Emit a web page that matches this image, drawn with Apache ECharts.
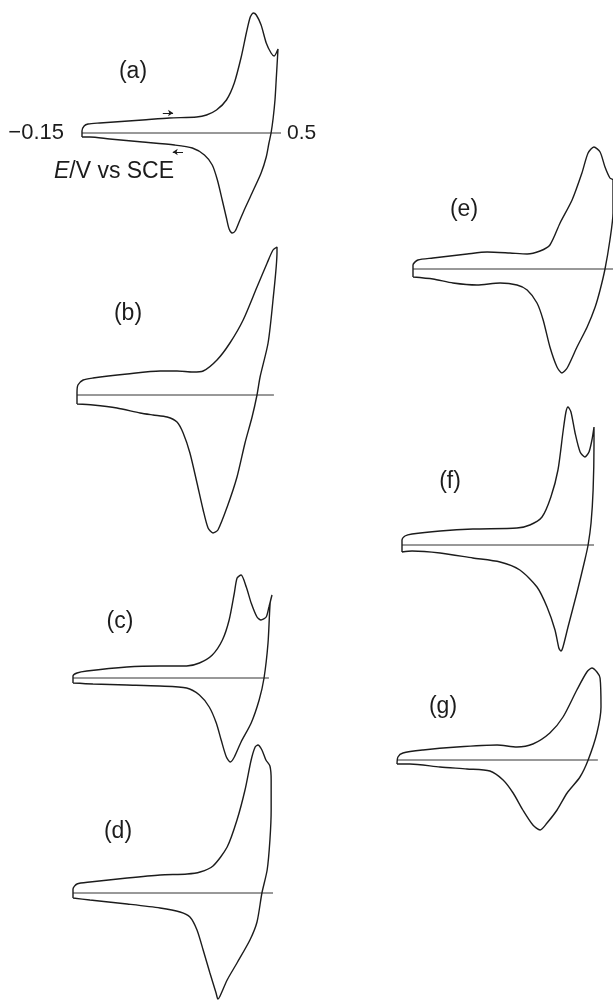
<!DOCTYPE html>
<html>
<head>
<meta charset="utf-8">
<script src="https://cdn.jsdelivr.net/npm/echarts@6/dist/echarts.min.js"></script>
<style>
  html, body { margin: 0; padding: 0; background: #fff; }
  #chart { width: 613px; height: 1000px; }
</style>
</head>
<body>
<div id="chart"></div>
<script>
// cyclic voltammograms, E in V vs SCE, current in arbitrary units (anodic up)
const panelNames = ["(a)", "(b)", "(c)", "(d)", "(e)", "(f)", "(g)"];
const startLabel = "\u22120.15";
const endLabel = "0.5";

const aE = [-0.150,-0.150,-0.143,-0.130,-0.091,0.051,0.140,0.230,0.263,0.296,0.329,0.355,0.378,0.395,0.408,0.418,0.428,0.444,0.461,0.477,0.487,0.500,0.494,0.490,0.484,0.477,0.470,0.461,0.444,0.414,0.388,0.371,0.358,0.348,0.338,0.329,0.315,0.299,0.282,0.256,0.216,0.157,0.051,-0.058,-0.124,-0.150];
const aI = [-4,2,7,9,10,13,15,16,18,23,33,50,76,100,116,120,118,108,90,80,77,84,53,33,15,0,-10,-24,-40,-60,-77,-89,-98,-100,-96,-85,-67,-47,-32,-22,-15,-12,-9,-6,-4,-4];

const bE = [-0.150,-0.150,-0.147,-0.130,-0.098,0.013,0.120,0.175,0.227,0.260,0.305,0.347,0.390,0.435,0.468,0.487,0.500,0.500,0.487,0.471,0.445,0.435,0.419,0.396,0.370,0.338,0.308,0.292,0.276,0.260,0.240,0.217,0.195,0.175,0.143,0.097,0.055,-0.020,-0.098,-0.150];
const bI = [-9,2,10,15,17,21,24,24,23,24,35,52,75,108,132,145,148,143,95,52,18,0,-22,-48,-82,-112,-135,-138,-133,-115,-88,-58,-38,-27,-22,-20,-18,-13,-10,-9];

const cE = [-0.150,-0.150,-0.137,-0.105,0.026,0.133,0.221,0.263,0.305,0.338,0.360,0.377,0.386,0.399,0.416,0.432,0.451,0.464,0.481,0.490,0.500,0.494,0.487,0.474,0.458,0.432,0.399,0.377,0.364,0.351,0.334,0.318,0.295,0.263,0.221,0.133,0.026,-0.085,-0.150];
const cI = [-5,2,5,7,11,12,12,15,23,38,58,85,100,103,91,75,61,58,61,71,83,75,35,0,-22,-45,-64,-79,-84,-79,-62,-45,-29,-17,-10,-8,-7,-6,-5];

const dE = [-0.150,-0.150,-0.137,-0.095,0.026,0.133,0.221,0.263,0.305,0.351,0.383,0.409,0.429,0.442,0.451,0.464,0.477,0.490,0.494,0.494,0.490,0.481,0.464,0.448,0.425,0.383,0.351,0.328,0.321,0.315,0.295,0.273,0.253,0.230,0.198,0.133,0.026,-0.095,-0.150];
const dI = [-5,4,9,11,15,18,19,21,27,46,73,103,133,146,148,143,133,127,113,83,53,23,0,-29,-47,-70,-87,-103,-106,-100,-80,-57,-37,-24,-19,-15,-11,-7,-5];

const eE = [-0.150,-0.150,-0.134,-0.085,0.026,0.091,0.165,0.221,0.263,0.295,0.328,0.367,0.399,0.419,0.438,0.458,0.474,0.490,0.500,0.500,0.490,0.474,0.458,0.442,0.416,0.383,0.351,0.334,0.318,0.295,0.273,0.253,0.221,0.188,0.133,0.058,-0.020,-0.085,-0.150];
const eI = [-8,4,9,11,15,17,16,15,18,24,46,69,96,116,122,117,102,91,89,56,29,0,-21,-38,-58,-78,-99,-104,-98,-78,-51,-34,-21,-16,-14,-16,-14,-10,-8];

const fE = [-0.150,-0.150,-0.140,-0.116,-0.021,0.090,0.239,0.283,0.324,0.354,0.378,0.395,0.405,0.412,0.422,0.436,0.453,0.469,0.483,0.493,0.500,0.500,0.497,0.490,0.480,0.469,0.442,0.412,0.395,0.388,0.381,0.368,0.341,0.307,0.249,0.182,0.090,-0.021,-0.116,-0.150];
const fI = [-7,5,9,11,14,16,17,20,28,48,75,113,133,138,133,112,93,88,93,105,118,100,55,22,0,-15,-48,-82,-102,-106,-103,-85,-62,-42,-25,-17,-13,-8,-6,-7];

const gE = [-0.150,-0.147,-0.131,-0.067,0.041,0.169,0.232,0.283,0.337,0.379,0.423,0.455,0.471,0.487,0.497,0.500,0.487,0.459,0.433,0.392,0.360,0.328,0.306,0.283,0.251,0.220,0.188,0.146,0.073,-0.013,-0.109,-0.150];
const gI = [-4,3,7,10,13,15,13,16,27,43,70,88,92,88,82,53,27,0,-17,-33,-50,-63,-70,-65,-50,-33,-20,-11,-9,-7,-4,-4];

// potential where each zero-current line stops
const zeroEnd = [0.51, 0.49, 0.49, 0.50, 0.52, 0.50, 0.49];
// sweep direction arrows on (a)
const arrowFwd = [[0.118, 20], [0.152, 20]];
const arrowRev = [[0.185, -19], [0.151, -19]];

const curves = [[aE, aI], [bE, bI], [cE, cI], [dE, dI], [eE, eI], [fE, fI], [gE, gI]];

// layout in pixels: left end of sweep, width of the 0.65 V sweep, baseline, label spot
const layout = [
  { x0: 82, w: 196, base: 133, lx: 133, ly: 72 },
  { x0: 77, w: 200, base: 395, lx: 128, ly: 314 },
  { x0: 73, w: 199, base: 678, lx: 120, ly: 622 },
  { x0: 73, w: 200, base: 893, lx: 118, ly: 832 },
  { x0: 413, w: 200, base: 269, lx: 464, ly: 210 },
  { x0: 402, w: 192, base: 545, lx: 450, ly: 482 },
  { x0: 397, w: 204, base: 760, lx: 443, ly: 707 },
];
const XMIN = -0.2, XMAX = 0.55;

const ink = "#1c1c1c";
const font = "Liberation Sans, Arial, Helvetica, sans-serif";

const chart = echarts.init(document.getElementById("chart"), null, { renderer: "canvas" });

const grid = [], xAxis = [], yAxis = [], series = [], graphic = [];
layout.forEach((p, k) => {
  const pxPerV = p.w / 0.65;
  const up = Math.min(150, p.base);
  const down = Math.min(140, 1000 - p.base);
  grid.push({
    left: p.x0 - (-0.15 - XMIN) * pxPerV,
    width: (XMAX - XMIN) * pxPerV,
    top: p.base - up,
    height: up + down,
    containLabel: false,
    outerBoundsMode: "none",
  });
  xAxis.push({ type: "value", gridIndex: k, min: XMIN, max: XMAX, show: false });
  yAxis.push({ type: "value", gridIndex: k, min: -down, max: up, show: false });

  series.push({
    type: "line",
    xAxisIndex: k,
    yAxisIndex: k,
    data: [[-0.15, 0], [zeroEnd[k], 0]],
    showSymbol: false,
    silent: true,
    clip: false,
    lineStyle: { color: "#333", width: 1 },
  });
  series.push({
    type: "line",
    xAxisIndex: k,
    yAxisIndex: k,
    data: curves[k][0].map((e, j) => [e, curves[k][1][j]]),
    showSymbol: false,
    smooth: 0.25,
    silent: true,
    clip: false,
    lineStyle: { color: ink, width: 1.4 },
  });

  graphic.push({
    type: "text",
    x: p.lx,
    y: p.ly,
    style: {
      text: panelNames[k],
      font: "23px " + font,
      fill: ink,
      align: "center",
      verticalAlign: "middle",
      textAlign: "center",
      textVerticalAlign: "middle",
    },
  });
});

// arrows showing sweep direction
series.push({
  type: "line",
  xAxisIndex: 0,
  yAxisIndex: 0,
  data: [],
  silent: true,
  markLine: {
    silent: true,
    symbol: ["none", "arrow"],
    symbolSize: 5,
    label: { show: false },
    lineStyle: { color: ink, width: 1, type: "solid" },
    data: [
      [{ coord: arrowFwd[0] }, { coord: arrowFwd[1] }],
      [{ coord: arrowRev[0] }, { coord: arrowRev[1] }],
    ],
  },
});

// potential limits and axis title for (a)
graphic.push(
  {
    type: "text",
    x: 64,
    y: 133,
    style: { text: startLabel, font: "22px " + font, fill: ink, align: "right", verticalAlign: "middle", textAlign: "right", textVerticalAlign: "middle" },
  },
  {
    type: "text",
    x: 287,
    y: 133,
    style: { text: endLabel, font: "21px " + font, fill: ink, align: "left", verticalAlign: "middle", textAlign: "left", textVerticalAlign: "middle" },
  },
  {
    type: "text",
    x: 114,
    y: 172,
    style: {
      text: "{i|E}/V vs SCE",
      font: "23px " + font,
      fill: ink,
      align: "center",
      verticalAlign: "middle",
      textAlign: "center",
      textVerticalAlign: "middle",
      rich: { i: { fontStyle: "italic", fontSize: 23, fontFamily: font, fill: ink } },
    },
  }
);

chart.setOption({
  backgroundColor: "#fff",
  animation: false,
  grid: grid,
  xAxis: xAxis,
  yAxis: yAxis,
  series: series,
  graphic: graphic,
});
</script>
</body>
</html>
